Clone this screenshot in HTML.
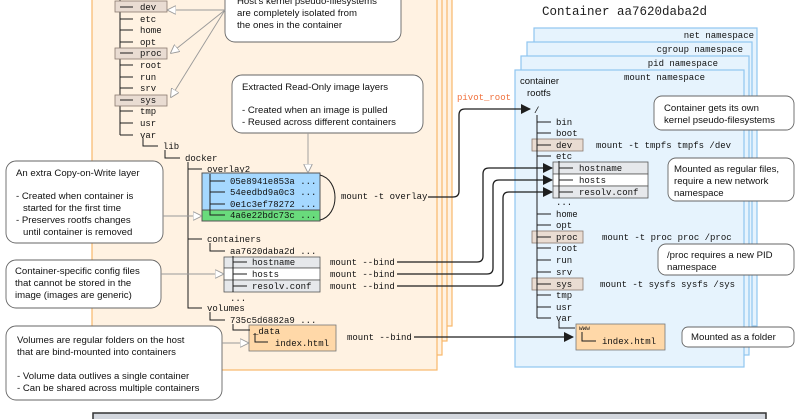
<!DOCTYPE html>
<html><head><meta charset="utf-8"><style>
html,body{margin:0;padding:0;background:#fff;}
svg{display:block}
.m{font-family:"Liberation Mono",monospace;font-size:9px;fill:#111}
.h{font-family:"Liberation Sans",sans-serif;font-size:9.6px;fill:#111}
</style></head><body>
<svg width="800" height="419" viewBox="0 0 800 419" xmlns="http://www.w3.org/2000/svg">
<defs>
<marker id="ho" viewBox="0 0 10 10" refX="9" refY="5" markerWidth="9" markerHeight="9" orient="auto-start-reverse" markerUnits="userSpaceOnUse"><path d="M0,0 L10,5 L0,10 Z" fill="#fff" stroke="#999" stroke-width="1"/></marker>
<marker id="fa" viewBox="0 0 10 10" refX="9" refY="5" markerWidth="10" markerHeight="10" orient="auto" markerUnits="userSpaceOnUse"><path d="M0,0 L10,5 L0,10 Z" fill="#1e1e1e"/></marker>
</defs>
<g fill="#fff2e2" stroke="#f8b86a" stroke-width="1.2">
<rect x="107" y="-10" width="345" height="336"/>
<rect x="102" y="-10" width="345" height="351"/>
<rect x="97" y="-10" width="345" height="365"/>
<rect x="92" y="-10" width="345" height="380"/>
</g>
<rect x="93" y="413" width="673" height="20" fill="#d3d7de" stroke="#333" stroke-width="1.5"/>
<text x="542" y="15" font-family="Liberation Mono,monospace" font-size="12.5" fill="#1e1e1e">Container aa7620daba2d</text>
<g fill="#e6f3fd" stroke="#90c6f0" stroke-width="1.2">
<rect x="534" y="28" width="223" height="298"/>
<rect x="527" y="42" width="225" height="304"/>
<rect x="521" y="56" width="228" height="299"/>
<rect x="515" y="70" width="229" height="297"/>
</g>
<g class="m" text-anchor="end">
<text x="754" y="38">net namespace</text>
<text x="743" y="52">cgroup namespace</text>
<text x="718" y="66">pid namespace</text>
<text x="705" y="80">mount namespace</text>
</g>
<g stroke="#1e1e1e" stroke-width="1" fill="none">
<path d="M120,-5 V135"/>
<path d="M120,7h13M120,19h13M120,30h13M120,42h13M120,53h13M120,65h13M120,77h13M120,88h13M120,100h13M120,111h13M120,123h13M120,135h13"/>
<path d="M143,138 V146 H158 M165,150 V158 H180 M188,162 V308 H202 M188,169 H202 M188,239 H202 M210,243 V251 H225 M210,312 V320 H225"/>
</g>
<g fill="#e9dcd2" stroke="#8a7a70" stroke-width="0.8"><rect x="115" y="1" width="52" height="11"/><rect x="115" y="48" width="52" height="11"/><rect x="115" y="95" width="52" height="11"/></g>
<g stroke="#1e1e1e"><path d="M120,7h13M120,53h13M120,100h13"/></g>
<g class="m">
<text x="140" y="10">dev</text><text x="140" y="22">etc</text><text x="140" y="33">home</text><text x="140" y="45">opt</text><text x="140" y="56">proc</text><text x="140" y="68">root</text><text x="140" y="80">run</text><text x="140" y="91">srv</text><text x="140" y="103">sys</text><text x="140" y="114">tmp</text><text x="140" y="126">usr</text><text x="140" y="138">var</text>
<text x="163" y="149">lib</text><text x="185" y="161">docker</text><text x="207" y="172">overlay2</text>
</g>
<rect x="202" y="173" width="118" height="37" fill="#a5d8ff" stroke="#555" stroke-width="1"/>
<rect x="202" y="210" width="118" height="11" fill="#69db7c" stroke="#555" stroke-width="1"/>
<g stroke="#1e1e1e" fill="none"><path d="M210,174 V215 H225 M210,181h15M210,192h15M210,204h15"/>
<path d="M320,175 C340,180 340,215 320,220"/></g>
<g class="m"><text x="230" y="184">05e8941e853a ...</text><text x="230" y="195">54eedbd9a0c3 ...</text><text x="230" y="207">0e1c3ef78272 ...</text><text x="230" y="218">4a6e22bdc73c ...</text>
<text x="207" y="242">containers</text><text x="230" y="254">aa7620daba2d ...</text><text x="230" y="301">...</text><text x="207" y="311">volumes</text><text x="230" y="323">735c5d6882a9 ...</text>
<text x="341" y="199">mount -t overlay</text>
<text x="330" y="265">mount --bind</text><text x="330" y="277">mount --bind</text><text x="330" y="289">mount --bind</text>
<text x="347" y="340">mount --bind</text></g>
<g stroke="#555" stroke-width="0.8"><rect x="224" y="257" width="96" height="11" fill="#e6e8eb"/><rect x="224" y="268" width="96" height="12" fill="#fff"/><rect x="224" y="280" width="96" height="12" fill="#e6e8eb"/></g>
<g stroke="#1e1e1e" fill="none"><path d="M233,256 V292 M233,262h14M233,274h14M233,286h14"/></g>
<g class="m"><text x="252" y="265">hostname</text><text x="252" y="277">hosts</text><text x="252" y="289">resolv.conf</text></g>
<rect x="249" y="325" width="87" height="26" fill="#ffd8a8" stroke="#777" stroke-width="0.8"/>
<g stroke="#1e1e1e" fill="none"><path d="M233,324 V330 H250 M255,333 V342 H268"/></g>
<g class="m"><text x="253" y="334">_data</text><text x="275" y="346">index.html</text></g>
<g class="m"><text x="520" y="84" style="font-family:'Liberation Sans',sans-serif;font-size:9.5px">container</text><text x="527" y="96" style="font-family:'Liberation Sans',sans-serif;font-size:9.5px">rootfs</text>
<text x="534" y="113">/</text></g>
<text x="457" y="100" font-family="Liberation Mono,monospace" font-size="9" fill="#f0703c">pivot_root</text>
<g fill="#e9dcd2" stroke="#8a7a70" stroke-width="0.8"><rect x="532" y="139" width="51" height="12"/><rect x="532" y="231" width="51" height="12"/><rect x="532" y="278" width="51" height="12"/></g>
<g stroke="#555" stroke-width="0.8"><rect x="553" y="162" width="95" height="12" fill="#e6e8eb"/><rect x="553" y="174" width="95" height="12" fill="#fff"/><rect x="553" y="186" width="95" height="12" fill="#e6e8eb"/></g>
<g stroke="#1e1e1e" fill="none">
<path d="M537,115 V318 M537,122h14M537,133h14M537,145h14M537,156h14M537,214h14M537,225h14M537,237h14M537,248h14M537,260h14M537,272h14M537,284h14M537,295h14M537,307h14M537,318h14"/>
<path d="M559,161 V198 M559,168h14M559,180h14M559,192h14 M559,321 V328 H575"/>
</g>
<rect x="576" y="324" width="89" height="26" fill="#ffd8a8" stroke="#777" stroke-width="0.8"/>
<path d="M582,332 V341 H596" stroke="#1e1e1e" fill="none"/>
<g class="m">
<text x="556" y="125">bin</text><text x="556" y="136">boot</text><text x="556" y="148">dev</text><text x="556" y="159">etc</text>
<text x="579" y="171">hostname</text><text x="579" y="183">hosts</text><text x="579" y="195">resolv.conf</text><text x="556" y="205">...</text>
<text x="556" y="217">home</text><text x="556" y="228">opt</text><text x="556" y="240">proc</text><text x="556" y="251">root</text><text x="556" y="263">run</text><text x="556" y="275">srv</text><text x="556" y="287">sys</text><text x="556" y="298">tmp</text><text x="556" y="310">usr</text><text x="556" y="321">var</text>
<text x="579" y="330" style="font-size:6px">www</text><text x="602" y="344">index.html</text>
<text x="596" y="148">mount -t tmpfs tmpfs /dev</text><text x="602" y="240">mount -t proc proc /proc</text><text x="600" y="287">mount -t sysfs sysfs /sys</text>
</g>
<g stroke="#1e1e1e" stroke-width="1.3" fill="none" marker-end="url(#fa)">
<path d="M428,197 H453 Q459,197 459,191 V115 Q459,109 465,109 H530"/>
<path d="M397,262 H477 Q483,262 483,256 V174 Q483,168 489,168 H552"/>
<path d="M397,274 H487 Q493,274 493,268 V186 Q493,180 499,180 H552"/>
<path d="M397,286 H497 Q503,286 503,280 V198 Q503,192 509,192 H552"/>
<path d="M414,337 H573"/>
</g>
<g fill="#fff" stroke="#666" stroke-width="0.9">
<rect x="225" y="-12" width="176" height="54" rx="10"/>
<rect x="232" y="75" width="191" height="58" rx="10"/>
<rect x="6" y="161" width="157" height="82" rx="10"/>
<rect x="6" y="260" width="155" height="48" rx="10"/>
<rect x="6" y="326" width="216" height="74" rx="10"/>
<rect x="654" y="96" width="140" height="34" rx="8"/>
<rect x="668" y="158" width="126" height="43" rx="8"/>
<rect x="658" y="244" width="136" height="31" rx="8"/>
<rect x="682" y="327" width="112" height="20" rx="6"/>
</g>
<g stroke="#999" stroke-width="0.9" fill="none" marker-end="url(#ho)">
<path d="M225,10 H168"/><path d="M225,10 L171,53"/><path d="M225,10 L171,97"/>
<path d="M308,133 V172"/><path d="M163,216 H201"/><path d="M161,274 H223"/><path d="M222,343 H248"/>
</g>
<g class="h">
<text x="237" y="4">Host's kernel pseudo-filesystems</text><text x="237" y="16">are completely isolated from</text><text x="237" y="28">the ones in the container</text>
<text x="242" y="90">Extracted Read-Only image layers</text><text x="242" y="113">- Created when an image is pulled</text><text x="242" y="125">- Reused across different containers</text>
<text x="16" y="176">An extra Copy-on-Write layer</text><text x="16" y="199">- Created when container is</text><text x="23" y="211">started for the first time</text><text x="16" y="223">- Preserves rootfs changes</text><text x="23" y="235">until container is removed</text>
<text x="15" y="274">Container-specific config files</text><text x="15" y="286">that cannot be stored in the</text><text x="15" y="298">image (images are generic)</text>
<text x="17" y="343">Volumes are regular folders on the host</text><text x="17" y="355">that are bind-mounted into containers</text><text x="17" y="379">- Volume data outlives a single container</text><text x="17" y="391">- Can be shared across multiple containers</text>
<text x="664" y="111">Container gets its own</text><text x="664" y="123">kernel pseudo-filesystems</text>
<text x="674" y="172">Mounted as regular files,</text><text x="674" y="184">require a new network</text><text x="674" y="196">namespace</text>
<text x="667" y="258">/proc requires a new PID</text><text x="667" y="270">namespace</text>
<text x="691" y="340">Mounted as a folder</text>
</g>
</svg>
</body></html>
